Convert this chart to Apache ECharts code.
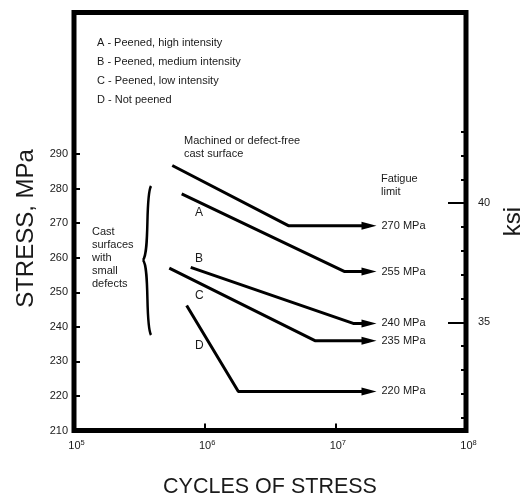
<!DOCTYPE html>
<html>
<head>
<meta charset="utf-8">
<script src="https://cdn.jsdelivr.net/npm/echarts@6/dist/echarts.min.js"></script>
<style>html,body{margin:0;padding:0;background:#fff}#c{width:521px;height:495px}</style>
</head>
<body>
<div id="c"></div>
<script>
// ---- data ----
const curveNames = ['Machined', 'A', 'B', 'C', 'D'];
const curveCycles = [
  [5.65e5, 4.37e6, 1.81e7],
  [6.67e5, 1.18e7, 1.81e7],
  [7.82e5, 1.37e7, 1.81e7],
  [5.36e5, 6.98e6, 1.81e7],
  [7.28e5, 1.81e6, 1.81e7]
];
const curveStress = [
  [286.7, 269.3, 269.3],
  [278.5, 256.0, 256.0],
  [257.2, 241.0, 241.0],
  [257.0, 236.0, 236.0],
  [246.2, 221.3, 221.3]
];
const fatigueLabels = ['270 MPa', '255 MPa', '240 MPa', '235 MPa', '220 MPa'];
const mpaTicks = [210, 220, 230, 240, 250, 260, 270, 280, 290];
const ksiMinorTicks = [31, 32, 33, 34, 35, 36, 37, 38, 39, 40, 41, 42, 43];
const ksiMajorTicks = [35, 40];
const decadeTicks = [1e5, 1e6, 1e7, 1e8];
const legendLines = ['A - Peened, high intensity', 'B - Peened, medium intensity', 'C - Peened, low intensity', 'D - Not peened'];
const MPA_PER_KSI = 6.89476;
const yMin = 210, yMax = 331;

const FONT = '"Liberation Sans", Arial, Helvetica, sans-serif';
const TXT = '#1a1a1a';

const chart = echarts.init(document.getElementById('c'), null, {renderer: 'canvas'});

const series = curveNames.map((name, i) => {
  const xs = curveCycles[i], ys = curveStress[i];
  const data = xs.map((x, j) => {
    if (j < xs.length - 1) return {value: [x, ys[j]], symbol: 'none'};
    return {
      value: [x, ys[j]],
      symbol: 'triangle',
      symbolSize: [8, 15],
      symbolRotate: -90,
      label: {
        show: true, position: 'right', distance: 5,
        formatter: fatigueLabels[i],
        fontFamily: FONT, fontSize: 11, color: TXT
      }
    };
  });
  return {
    name: name, type: 'line', xAxisIndex: 0, yAxisIndex: 0,
    data: data, showSymbol: true, symbol: 'triangle',
    itemStyle: {color: '#000'},
    lineStyle: {color: '#000', width: 3},
    silent: true, animation: false, z: 3
  };
});

const legendGraphics = legendLines.map((t, i) => ({
  type: 'text', left: 97, top: 37 + i * 19.2,
  style: {text: t, fontFamily: FONT, fontSize: 11, fill: TXT}
}));

const option = {
  backgroundColor: '#fff',
  animation: false,
  grid: {left: 74, right: 55, top: 12.5, bottom: 64.5, show: true, borderWidth: 5, borderColor: '#000', backgroundColor: 'transparent', outerBoundsMode: 'none', containLabel: false},
  xAxis: [{
    type: 'log', logBase: 10, min: 1e5, max: 1e8,
    name: 'CYCLES OF STRESS', nameLocation: 'middle', nameGap: 46,
    nameTextStyle: {fontFamily: FONT, fontSize: 21.5, color: TXT},
    axisLine: {show: false},
    axisTick: {show: true, inside: true, length: 7, lineStyle: {color: '#000', width: 2}, customValues: decadeTicks},
    minorTick: {show: false},
    splitLine: {show: false},
    axisLabel: {
      show: true, margin: 8, customValues: decadeTicks,
      formatter: v => '{b|10}{s|' + Math.round(Math.log10(v)) + '}',
      rich: {
        b: {fontFamily: FONT, fontSize: 11, color: TXT, verticalAlign: 'bottom', padding: [0, 0, 0, 5]},
        s: {fontFamily: FONT, fontSize: 7.5, color: TXT, verticalAlign: 'top', padding: [0, 0, 5, 0]}
      }
    }
  }],
  yAxis: [{
    type: 'value', min: yMin, max: yMax, interval: 10, position: 'left',
    name: 'STRESS, MPa', nameLocation: 'middle', nameGap: 36, nameRotate: 90,
    nameTextStyle: {fontFamily: FONT, fontSize: 24, color: TXT, padding: [0, 14, 0, 0]},
    axisLine: {show: false},
    axisTick: {show: true, inside: true, length: 6, lineStyle: {color: '#000', width: 2}, customValues: mpaTicks},
    splitLine: {show: false},
    axisLabel: {margin: 6, customValues: mpaTicks, fontFamily: FONT, fontSize: 11, color: TXT}
  }, {
    type: 'value', min: yMin / MPA_PER_KSI, max: yMax / MPA_PER_KSI, position: 'right',
    axisLine: {show: false},
    axisTick: {show: true, inside: true, length: 5, lineStyle: {color: '#000', width: 2}, customValues: ksiMinorTicks},
    splitLine: {show: false},
    axisLabel: {show: false}
  }, {
    type: 'value', min: yMin / MPA_PER_KSI, max: yMax / MPA_PER_KSI, position: 'right',
    name: 'ksi', nameLocation: 'middle', nameGap: 32, nameRotate: 90,
    nameTextStyle: {fontFamily: FONT, fontSize: 24, color: TXT},
    axisLine: {show: false},
    axisTick: {show: true, inside: true, length: 18, lineStyle: {color: '#000', width: 2}, customValues: ksiMajorTicks},
    splitLine: {show: false},
    axisLabel: {show: true, margin: 12, customValues: ksiMajorTicks, fontFamily: FONT, fontSize: 11, color: TXT}
  }],
  series: series,
  graphic: legendGraphics.concat([
    {type: 'text', left: 184, top: 134, style: {text: 'Machined or defect-free\ncast surface', fontFamily: FONT, fontSize: 11, lineHeight: 13.5, fill: TXT}},
    {type: 'text', left: 381, top: 172, style: {text: 'Fatigue\nlimit', fontFamily: FONT, fontSize: 11, lineHeight: 13.5, fill: TXT}},
    {type: 'text', left: 92, top: 225, style: {text: 'Cast\nsurfaces\nwith\nsmall\ndefects', fontFamily: FONT, fontSize: 11, lineHeight: 13, fill: TXT}},
    {type: 'text', left: 195, top: 207, style: {text: 'A', fontFamily: FONT, fontSize: 12, fill: TXT}},
    {type: 'text', left: 195, top: 253, style: {text: 'B', fontFamily: FONT, fontSize: 12, fill: TXT}},
    {type: 'text', left: 195, top: 290, style: {text: 'C', fontFamily: FONT, fontSize: 12, fill: TXT}},
    {type: 'text', left: 195, top: 340, style: {text: 'D', fontFamily: FONT, fontSize: 12, fill: TXT}},
    {type: 'bezierCurve', shape: {x1: 151, y1: 186, cpx1: 145, cpy1: 196, cpx2: 150, cpy2: 252, x2: 143, y2: 260}, style: {stroke: '#000', lineWidth: 2.5, fill: null}},
    {type: 'bezierCurve', shape: {x1: 143, y1: 260, cpx1: 150, cpy1: 268, cpx2: 145, cpy2: 325, x2: 151, y2: 335}, style: {stroke: '#000', lineWidth: 2.5, fill: null}}
  ])
};
chart.setOption(option);
</script>
</body>
</html>
